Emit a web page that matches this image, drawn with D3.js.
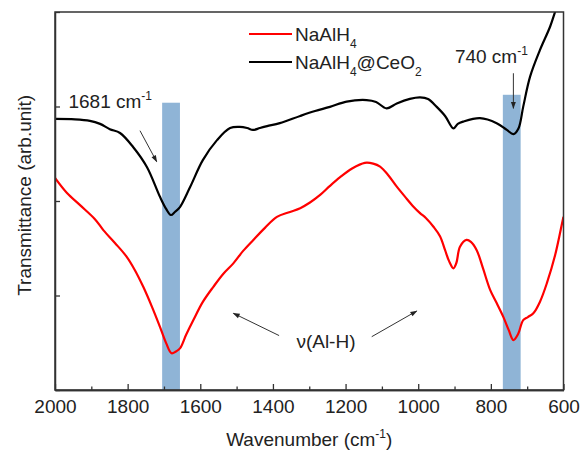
<!DOCTYPE html>
<html>
<head>
<meta charset="utf-8">
<script src="https://cdn.jsdelivr.net/npm/d3@7"></script>
<style>
  body { margin: 0; background: #fff; }
  text { font-family: "Liberation Sans", Arial, sans-serif; fill: #222; }
</style>
</head>
<body>
<div id="chart"></div>
<script>
// wavenumber (cm-1), transmittance in arbitrary units
const blueWave = [2000, 1945, 1904, 1876, 1849, 1821, 1785, 1747, 1711, 1694, 1681, 1670, 1656, 1628, 1593, 1554, 1518, 1491, 1471, 1455, 1436, 1416, 1381, 1325, 1284, 1243, 1197, 1142, 1116, 1087, 1059, 1023, 995, 973, 949, 926, 903, 891, 876, 830, 784, 756, 738, 724, 711, 692, 665, 637, 623, 600];
const ceo2Values = [71.7, 71.6, 71.2, 70.4, 69.0, 68.0, 64.3, 59.0, 51.1, 47.9, 46.3, 47.1, 48.4, 53.7, 60.8, 66.1, 69.3, 69.6, 69.3, 68.8, 69.3, 69.8, 70.6, 72.5, 73.8, 74.9, 76.3, 76.7, 76.2, 74.5, 75.8, 77.0, 77.4, 77.0, 74.9, 72.5, 69.2, 70.4, 71.0, 71.9, 70.6, 68.8, 67.7, 69.2, 74.9, 82.9, 89.9, 96.1, 100.1, 107];

const redWave = [2000, 1967, 1931, 1890, 1867, 1835, 1803, 1780, 1757, 1733, 1711, 1694, 1679, 1667, 1656, 1639, 1619, 1593, 1564, 1537, 1509, 1482, 1454, 1422, 1389, 1353, 1325, 1298, 1270, 1243, 1215, 1182, 1147, 1124, 1105, 1083, 1059, 1036, 1013, 995, 979, 958, 940, 926, 915, 903, 895, 885, 867, 855, 839, 822, 802, 784, 766, 751, 738, 725, 711, 698, 683, 665, 646, 623, 602, 600];
const naalh4Values = [56.1, 52.1, 48.9, 45.2, 42.3, 38.9, 35.3, 31.7, 27.3, 22.0, 16.7, 12.4, 9.7, 10.2, 11.0, 14.6, 18.5, 23.3, 27.3, 30.7, 33.5, 36.8, 39.7, 42.9, 45.8, 47.1, 48.1, 49.6, 51.6, 54.0, 56.3, 58.6, 60.1, 59.9, 59.1, 56.9, 53.8, 51.1, 48.5, 46.8, 45.5, 43.2, 40.7, 37.0, 34.1, 32.2, 33.6, 37.9, 39.7, 39.2, 37.0, 32.3, 26.5, 23.0, 19.4, 15.9, 13.2, 14.8, 18.5, 19.3, 20.3, 23.3, 28.2, 35.7, 45.0, 45.8];

// highlighted bands: [from, to, top]
const bands = [[1705, 1656, 76.0], [767, 718, 78.1]];

const xMajorTicks = [2000, 1800, 1600, 1400, 1200, 1000, 800, 600];
const xMinorTicks = [1900, 1700, 1500, 1300, 1100, 900, 700];
const yTicks = [0, 25, 50, 75, 100];

const chart = {};
chart.width = 581;
chart.height = 454;
chart.margin = {left: 55, right: 17.5, top: 12, bottom: 64};

chart.draw = function () {
    const m = chart.margin;
    const svg = d3.select("#chart").append("svg")
        .attr("width", chart.width)
        .attr("height", chart.height);

    const x = d3.scaleLinear()
        .domain([2000, 600])
        .range([m.left, chart.width - m.right]);
    const y = d3.scaleLinear()
        .domain([0, 100])
        .range([chart.height - m.bottom, m.top]);

    const defs = svg.append("defs");
    defs.append("clipPath").attr("id", "plot-clip")
        .append("rect")
        .attr("x", m.left).attr("y", m.top)
        .attr("width", x(600) - x(2000))
        .attr("height", y(0) - y(100));
    defs.append("marker")
        .attr("id", "arrow")
        .attr("viewBox", "0 0 10 10")
        .attr("refX", 9).attr("refY", 5)
        .attr("markerWidth", 9).attr("markerHeight", 7)
        .attr("markerUnits", "userSpaceOnUse")
        .attr("orient", "auto")
        .append("path")
        .attr("d", "M0,1.5 L10,5 L0,8.5 Z")
        .attr("fill", "#222");

    // bands
    svg.append("g")
        .selectAll("rect")
        .data(bands)
        .join("rect")
        .attr("x", d => x(d[0]))
        .attr("width", d => x(d[1]) - x(d[0]))
        .attr("y", d => y(d[2]))
        .attr("height", d => y(0) - y(d[2]))
        .attr("fill", "#8fb4d6");

    const line = d3.line()
        .x(d => x(d[0]))
        .y(d => y(d[1]))
        .curve(d3.curveCatmullRom.alpha(0.5));

    const plot = svg.append("g").attr("clip-path", "url(#plot-clip)");
    plot.append("path")
        .datum(d3.zip(redWave, naalh4Values))
        .attr("d", line)
        .attr("fill", "none")
        .attr("stroke", "#ff0000")
        .attr("stroke-width", 2.2);
    plot.append("path")
        .datum(d3.zip(blueWave, ceo2Values))
        .attr("d", line)
        .attr("fill", "none")
        .attr("stroke", "#000")
        .attr("stroke-width", 2.2);

    // axes
    const xAxis = svg.append("g")
        .attr("transform", "translate(0," + y(0) + ")")
        .call(d3.axisBottom(x).tickValues(xMajorTicks).tickFormat(d3.format("d"))
            .tickSizeInner(-6).tickSizeOuter(0).tickPadding(9.5));
    svg.append("g")
        .attr("transform", "translate(0," + y(0) + ")")
        .call(d3.axisBottom(x).tickValues(xMinorTicks).tickSizeInner(-3.5).tickSizeOuter(0).tickFormat(""));
    svg.append("g")
        .attr("transform", "translate(" + x(2000) + ",0)")
        .call(d3.axisLeft(y).tickValues(yTicks).tickSizeInner(-5).tickSizeOuter(0).tickFormat(""));
    svg.selectAll(".domain").attr("stroke", "#333").attr("stroke-width", 1.5);
    svg.selectAll(".tick line").attr("stroke", "#333").attr("stroke-width", 1.3);
    xAxis.selectAll("text")
        .style("font-family", "'Liberation Sans', Arial, sans-serif")
        .style("font-size", "19px")
        .attr("fill", "#222");

    // frame
    svg.append("rect")
        .attr("x", x(2000)).attr("y", y(100))
        .attr("width", x(600) - x(2000))
        .attr("height", y(0) - y(100))
        .attr("fill", "none")
        .attr("stroke", "#333")
        .attr("stroke-width", 1.5);

    // axis titles
    const xt = svg.append("text")
        .attr("x", (x(2000) + x(600)) / 2)
        .attr("y", 446)
        .attr("text-anchor", "middle")
        .style("font-size", "19px");
    xt.append("tspan").text("Wavenumber (cm");
    xt.append("tspan").attr("dy", -8).style("font-size", "12px").text("-1");
    xt.append("tspan").attr("dy", 8).text(")");

    svg.append("text")
        .attr("transform", "translate(31," + y(51.5) + ") rotate(-90)")
        .attr("text-anchor", "middle")
        .style("font-size", "19px")
        .text("Transmittance (arb.unit)");

    // legend
    const legend = [
        {color: "#ff0000", y: 34, parts: [["NaAlH", 0], ["4", 1]]},
        {color: "#000", y: 62, parts: [["NaAlH", 0], ["4", 1], ["@CeO", 0], ["2", 1]]}
    ];
    legend.forEach(function (item) {
        svg.append("line")
            .attr("x1", 249).attr("x2", 292)
            .attr("y1", item.y).attr("y2", item.y)
            .attr("stroke", item.color)
            .attr("stroke-width", 2.2);
        const t = svg.append("text")
            .attr("x", 295)
            .attr("y", item.y + 7)
            .style("font-size", "19px");
        let sub = 0;
        item.parts.forEach(function (p) {
            const dy = p[1] ? 7 : (sub ? -7 : 0);
            t.append("tspan")
                .attr("dy", dy)
                .style("font-size", p[1] ? "12px" : "19px")
                .text(p[0]);
            sub = p[1];
        });
    });

    // annotations
    function label(wave, val, main, sup) {
        const t = svg.append("text")
            .attr("x", x(wave)).attr("y", y(val))
            .style("font-size", "19px");
        t.append("tspan").text(main);
        t.append("tspan").attr("dy", -8).style("font-size", "12px").text(sup);
    }
    label(1963, 74.6, "1681 cm", "-1");
    label(899, 86.4, "740 cm", "-1");

    svg.append("text")
        .attr("x", x(1254)).attr("y", y(11.2))
        .attr("text-anchor", "middle")
        .style("font-size", "19px")
        .text("\u03bd(Al-H)");

    const arrows = [
        [1766, 68.6, 1720, 60.4],
        [738, 83.8, 738, 74.5],
        [1383, 14.4, 1509, 20.3],
        [1128, 14.1, 1004, 20.9]
    ];
    svg.append("g")
        .selectAll("line")
        .data(arrows)
        .join("line")
        .attr("x1", d => x(d[0])).attr("y1", d => y(d[1]))
        .attr("x2", d => x(d[2])).attr("y2", d => y(d[3]))
        .attr("stroke", "#333")
        .attr("stroke-width", 1)
        .attr("marker-end", "url(#arrow)");
};

chart.draw();
</script>
</body>
</html>
